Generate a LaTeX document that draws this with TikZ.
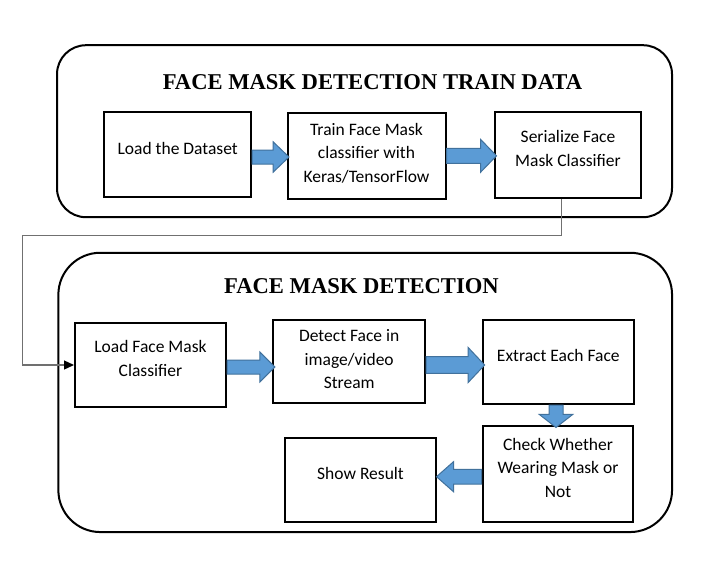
\documentclass[tikz,border=0pt]{standalone}
\usepackage{fontspec}
\setmainfont{Carlito}
\newfontfamily\titlefont{Liberation Serif}
\usetikzlibrary{calc,arrows.meta}
\definecolor{arrowfill}{HTML}{5B9BD5}
\definecolor{arrowline}{HTML}{41719C}
\definecolor{connclr}{HTML}{707070}
\tikzset{
  panel/.style={draw=black, line width=2pt, inner sep=0pt},
  stepbox/.style={draw=black, line width=2pt, inner sep=0pt},
  txt/.style={font=\fontsize{17.5}{23.5}\selectfont, align=center, inner sep=0pt},
  ttl/.style={font=\titlefont\bfseries\fontsize{22.6}{26}\selectfont, inner sep=0pt},
  barrow/.style={fill=arrowfill, draw=arrowline, line width=1pt, line join=miter},
  connline/.style={draw=connclr, line width=1.3pt},
}
\newcommand\blockarrow[5]{%
  \coordinate (ba0) at (#1); \coordinate (ba1) at (#2);
  \coordinate (bah) at ($(ba1)!#5!(ba0)$);
  \draw[barrow] ($(ba0)!#3!90:(ba1)$) -- ($(bah)!#3!-90:(ba0)$) -- ($(bah)!#4!-90:(ba0)$)
     -- (ba1) -- ($(bah)!#4!90:(ba0)$) -- ($(bah)!#3!90:(ba0)$) -- ($(ba0)!#3!-90:(ba1)$) -- cycle;
}
\begin{document}
\begin{tikzpicture}[x=1pt,y=-1pt]
\useasboundingbox[fill=white] (0,0) rectangle (727,568);
% panels
\node[panel, rounded corners=29pt, minimum width=615pt, minimum height=172pt] (P1) at (364.5,131.2) {};
\node[panel, rounded corners=42pt, minimum width=613.7pt, minimum height=279.3pt] (P2) at (365.2,392.4) {};
\node[ttl] (T1) at (372.5,82) {FACE MASK DETECTION TRAIN DATA};
\node[ttl] (T2) at (361.5,286) {FACE MASK DETECTION};
% boxes
\node[stepbox, minimum width=146.7pt, minimum height=85.6pt] (A) at (177.7,154.5) {};
\node[stepbox, minimum width=158pt, minimum height=86.3pt] (B) at (366.5,155.8) {};
\node[stepbox, minimum width=146pt, minimum height=85.4pt] (C) at (568,155) {};
\node[stepbox, minimum width=151pt, minimum height=83.4pt] (D) at (150.5,365) {};
\node[stepbox, minimum width=151.7pt, minimum height=83.3pt] (E) at (349.2,361.7) {};
\node[stepbox, minimum width=151.3pt, minimum height=84pt] (F) at (558.3,362) {};
\node[stepbox, minimum width=150.6pt, minimum height=95.7pt] (G) at (558,473.8) {};
\node[stepbox, minimum width=151pt, minimum height=84pt] (H) at (360.5,479.7) {};
% texts
\node[txt] (At) at (177.7,148) {Load the Dataset};
\node[txt] (Bt) at (366.5,153) {Train Face Mask\\classifier with\\Keras/TensorFlow};
\node[txt] (Ct) at (568,148.3) {Serialize Face\\Mask Classifier};
\node[txt] (Dt) at (150.5,358.7) {Load Face Mask\\Classifier};
\node[txt] (Et) at (349.2,359.5) {Detect Face in\\image/video\\Stream};
\node[txt] (Ft) at (558.3,355) {Extract Each Face};
\node[txt] (Gt) at (558,467.5) {Check Whether\\Wearing Mask or\\Not};
\node[txt] (Ht) at (360.5,473.3) {Show Result};
% connector from serialize to load classifier
\coordinate (c1) at (561.7,235.5);
\coordinate (c2) at (22.7,235.5);
\draw[connline, -{Triangle[length=10pt,width=9pt,color=black]}]
  (C.south -| c1) -- (c1) -- (c2) -- (c2 |- D.west) -- (D.west);
% block arrows
\blockarrow{A.east |- 0,157}{$(B.west |- 0,157)+(2.5,0)$}{7pt}{15.3pt}{16pt}
\blockarrow{B.east |- 0,155.8}{$(C.west |- 0,155.8)+(2.5,0)$}{7.5pt}{16.5pt}{16pt}
\blockarrow{D.east |- 0,367}{$(E.west |- 0,367)+(2.5,0)$}{7pt}{15pt}{15pt}
\blockarrow{E.east |- 0,365}{$(F.west |- 0,365)+(3,0)$}{8.3pt}{17.5pt}{16.5pt}
\blockarrow{F.south -| 556,0}{$(G.north -| 556,0)+(0,2.5)$}{7pt}{16.7pt}{13pt}
\blockarrow{G.west |- 0,476.7}{$(H.east |- 0,476.7)+(-0.5,0)$}{7.3pt}{15pt}{17pt}
\end{tikzpicture}
\end{document}
